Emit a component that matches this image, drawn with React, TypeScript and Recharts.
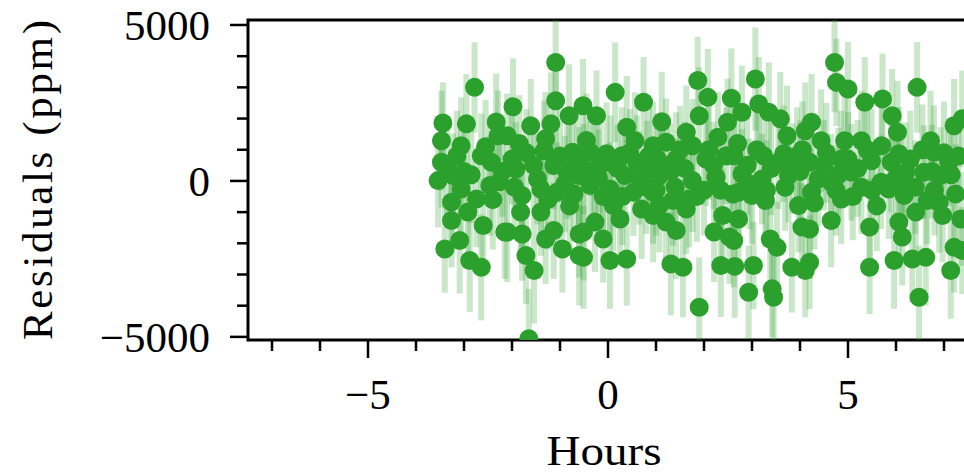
import { ScatterChart, Scatter, XAxis, YAxis, ErrorBar, ReferenceArea } from "recharts";

// [hours, residual ppm, error ppm]
const observations: [number, number, number][] = [
  [-3.54, 10, 1500], [-3.47, 1290, 1600], [-3.47, 600, 1450], [-3.44, 1860, 1300], [-3.40, -2180, 1400],
  [-3.26, -680, 1650], [-3.26, -1270, 1500], [-3.23, 170, 1350], [-3.09, -1910, 1700], [-3.06, 1130, 1550],
  [-3.06, -260, 1400], [-3.00, 300, 1500], [-2.95, 1830, 1600], [-2.92, -1000, 1450], [-2.88, -2550, 1650],
  [-2.78, 3000, 1450], [-2.74, -580, 1550], [-2.64, 810, 1350], [-2.64, -2770, 1700], [-2.60, -1430, 1500],
  [-2.46, -150, 1600], [-2.43, 600, 1400], [-2.33, 1890, 1550], [-2.29, 1450, 1450], [-2.26, -30, 1650],
  [-2.15, -1640, 1500], [-2.10, 1450, 1350], [-2.10, -1640, 1600], [-2.00, 700, 1450], [-1.98, 2380, 1550],
  [-1.92, 380, 1500], [-1.82, -1000, 1400], [-1.79, -470, 1650], [-1.79, -1700, 1500], [-1.71, -2390, 1550],
  [-1.70, 900, 1400], [-1.65, -5060, 1600], [-1.61, 1770, 1500], [-1.54, -2870, 1700], [-1.47, 60, 1450],
  [-1.40, -260, 1550], [-1.40, -1000, 1400], [-1.33, 970, 1600], [-1.30, 1350, 1500], [-1.30, -1860, 1450],
  [-1.19, 1830, 1650], [-1.13, 490, 1400], [-1.13, -1590, 1550], [-1.09, 3800, 1450], [-1.09, 2570, 1500],
  [-1.06, -360, 1600], [-0.95, -2180, 1400], [-0.90, -100, 1550], [-0.85, 280, 1500], [-0.81, 2090, 1650],
  [-0.74, 920, 1450], [-0.71, -420, 1500], [-0.60, 170, 1550], [-0.60, -1700, 1400], [-0.60, -2390, 1600],
  [-0.52, 2410, 1500], [-0.51, 380, 1450], [-0.51, -1640, 1550], [-0.51, -2450, 1650], [-0.37, 920, 1400],
  [-0.37, -150, 1500], [-0.27, -1320, 1600], [-0.24, 2090, 1450], [-0.20, 100, 1550], [-0.17, 490, 1500],
  [-0.10, -1860, 1400], [-0.03, 870, 1650], [0.04, -260, 1500], [0.04, -2550, 1550], [0.11, -790, 1450],
  [0.15, 2840, 1600], [0.20, 400, 1400], [0.25, -1220, 1500], [0.29, 810, 1550], [0.35, 170, 1450],
  [0.39, 1720, 1650], [0.39, -2500, 1500], [0.53, -360, 1400], [0.56, 1290, 1550], [0.60, 600, 1500],
  [0.70, -900, 1600], [0.74, 2520, 1450], [0.80, -200, 1500], [0.81, 380, 1550], [0.94, 1130, 1400],
  [0.94, -360, 1650], [0.94, -1110, 1500], [1.03, 700, 1450], [1.07, 170, 1550], [1.07, -790, 1500],
  [1.12, 1900, 1600], [1.21, 1240, 1400], [1.21, -1320, 1500], [1.30, 300, 1550], [1.31, -2660, 1650],
  [1.35, -630, 1450], [1.42, 700, 1500], [1.42, -1590, 1550], [1.50, 1000, 1400], [1.56, -2770, 1600],
  [1.63, 1560, 1500], [1.63, -900, 1450], [1.69, -580, 1550], [1.76, 1130, 1500], [1.76, 10, 1650],
  [1.87, 3220, 1400], [1.90, 2090, 1550], [1.90, -4050, 1600], [2.00, -300, 1450], [2.04, 700, 1500],
  [2.08, 2680, 1550], [2.20, 500, 1400], [2.21, -1640, 1600], [2.25, 120, 1500], [2.29, 1400, 1450],
  [2.35, -2710, 1650], [2.39, -1110, 1500], [2.46, 810, 1550], [2.49, 1880, 1400], [2.57, 2650, 1600],
  [2.53, -1800, 1500], [2.60, -420, 1450], [2.62, 810, 1550], [2.62, -1910, 1500], [2.64, -2740, 1650],
  [2.72, -360, 1400], [2.72, -1220, 1550], [2.79, 2200, 1500], [2.79, 220, 1450], [2.90, 500, 1600],
  [2.93, -3570, 1500], [3.00, -470, 1550], [3.03, -2710, 1400], [3.07, 3270, 1650], [3.14, 2470, 1500],
  [3.21, 60, 1450], [3.24, 810, 1550], [3.28, -630, 1500], [3.35, 2200, 1600], [3.38, -1860, 1400],
  [3.40, 400, 1500], [3.42, -3460, 1550], [3.45, -3730, 1650], [3.52, -2130, 1450], [3.59, 1990, 1500],
  [3.66, 870, 1550], [3.69, -200, 1400], [3.73, 1450, 1600], [3.76, 170, 1500], [3.83, -2770, 1450],
  [3.94, 810, 1550], [3.97, -790, 1500], [4.00, 300, 1650], [4.04, -1480, 1400], [4.11, 1610, 1550],
  [4.11, -2870, 1500], [4.20, 600, 1450], [4.20, -1540, 1600], [4.20, -2610, 1500], [4.24, 1880, 1550],
  [4.24, -360, 1400], [4.38, 60, 1500], [4.44, 1290, 1650], [4.50, 500, 1450], [4.65, -40, 1550],
  [4.65, -1270, 1500], [4.72, 3800, 1600], [4.76, 3160, 1400], [4.80, 200, 1500], [4.86, 700, 1550],
  [4.86, -580, 1450], [4.93, 1290, 1650], [5.00, 2950, 1500], [5.07, 280, 1550], [5.10, -500, 1400],
  [5.28, 1290, 1600], [5.28, -200, 1500], [5.35, 2520, 1450], [5.45, -1480, 1550], [5.45, -2770, 1500],
  [5.49, 650, 1650], [5.50, -300, 1400], [5.70, 1130, 1550], [5.69, -40, 1500], [5.72, 2630, 1450],
  [5.85, -260, 1600], [5.92, 2090, 1500], [5.96, -2550, 1550], [6.00, 100, 1400], [6.03, 1560, 1650],
  [6.06, 870, 1500], [6.06, -1320, 1450], [6.13, -1800, 1550], [6.17, -470, 1500], [6.20, 280, 1600],
  [6.34, -2500, 1400], [6.40, -200, 1500], [6.41, -1000, 1550], [6.44, 3000, 1450], [6.48, -3730, 1650],
  [6.58, 280, 1500], [6.62, -2450, 1550], [6.65, -630, 1400], [6.72, 1290, 1600], [6.79, 920, 1500],
  [6.80, -300, 1450], [6.93, 170, 1550], [6.97, -1110, 1500], [7.00, 900, 1650], [7.10, 600, 1400],
  [7.14, -2870, 1550], [7.21, 1770, 1500], [7.21, -2130, 1450], [7.24, -420, 1600], [7.35, -1220, 1500],
  [7.38, 1990, 1550], [7.38, -2230, 1400],
];

// points hidden inside the dense central band (estimated)
const coreObservations: [number, number, number][] = [
  [-3.35, 400, 1500], [-3.15, 800, 1450], [-2.85, 200, 1550], [-2.55, 1100, 1500], [-2.40, -600, 1600],
  [-2.20, 300, 1450], [-1.95, -200, 1500], [-1.85, 1200, 1550], [-1.55, 500, 1400], [-1.25, -600, 1600],
  [-1.00, 800, 1500], [-0.80, -800, 1450], [-0.65, 600, 1550], [-0.45, 1300, 1500], [-0.30, 300, 1600],
  [-0.10, -500, 1450], [0.05, 600, 1500], [0.30, -500, 1550], [0.45, 900, 1400], [0.65, 100, 1500],
  [0.85, 800, 1600], [1.00, -300, 1450], [1.15, 500, 1500], [1.40, -200, 1550], [1.60, 400, 1500],
  [1.85, -500, 1450], [2.10, 1000, 1600], [2.35, -300, 1500], [2.70, 1200, 1550], [2.95, -100, 1450],
  [3.10, 1000, 1500], [3.30, -300, 1600], [3.55, 600, 1500], [3.85, 400, 1450], [4.05, 1000, 1550],
  [4.30, -700, 1500], [4.55, 900, 1600], [4.75, -300, 1450], [5.00, 700, 1500], [5.20, 400, 1550],
  [5.40, 1000, 1500], [5.60, -800, 1450], [5.90, 600, 1600], [6.10, -100, 1500], [6.30, 700, 1550],
  [6.55, 1000, 1450], [6.75, 300, 1500], [6.90, -700, 1600], [7.15, 200, 1500], [7.30, 800, 1450],
];

const xTicks = [-7, -6, -5, -4, -3, -2, -1, 0, 1, 2, 3, 4, 5, 6, 7];
const yTicks = [-5000, -4000, -3000, -2000, -1000, 0, 1000, 2000, 3000, 4000, 5000];
const xMajor = [-5, 0, 5];
const yMajor = [-5000, 0, 5000];

const X_MIN = -7.5;
const X_MAX = 7.5;
const Y_MIN = -5100;
const Y_MAX = 5160;

const GREEN = "#2ca02c";
const FONT = "'Liberation Serif', 'Times New Roman', serif";

// error bars are cut at the plot frame, like matplotlib's clipping
const data = [...observations, ...coreObservations].map(([x, y, err]) => ({
  x,
  y,
  err: [Math.max(0, Math.min(err, y - Y_MIN)), Math.max(0, Math.min(err, Y_MAX - y))],
}));

const fmt = (v: number) => (v < 0 ? "\u2212" + Math.abs(v) : String(v));

const XTick = (props: any) => {
  const { x, y, payload } = props;
  const major = xMajor.includes(payload.value);
  return (
    <g>
      <line x1={x} x2={x} y1={y} y2={y + (major ? 18 : 11)} stroke="#000" strokeWidth={2.5} />
      {major && (
        <text x={x} y={y + 69} textAnchor="middle" fontFamily={FONT} fontSize={43} fill="#000">
          {fmt(payload.value)}
        </text>
      )}
    </g>
  );
};

const YTick = (props: any) => {
  const { x, y, payload } = props;
  const major = yMajor.includes(payload.value);
  return (
    <g>
      <line x1={x - (major ? 18 : 11)} x2={x} y1={y} y2={y} stroke="#000" strokeWidth={2.5} />
      {major && (
        <text x={x - 38} y={y + 15} textAnchor="end" fontFamily={FONT} fontSize={43} fill="#000">
          {fmt(payload.value)}
        </text>
      )}
    </g>
  );
};

const Dot = (props: any) => (
  <circle cx={props.cx} cy={props.cy} r={9.5} fill={GREEN} clipPath="url(#plot-frame)" />
);

export default function App() {
  return (
    <div style={{ position: "absolute", left: 0, top: 0, width: 964, height: 474, overflow: "hidden", background: "#fff" }}>
      <ScatterChart width={1010} height={474} margin={{ top: 20, right: 42, bottom: 0, left: 0 }}>
        <defs>
          <clipPath id="plot-frame">
            <rect x={248} y={20} width={720} height={320} />
          </clipPath>
        </defs>
        <XAxis
          type="number"
          dataKey="x"
          domain={[X_MIN, X_MAX]}
          allowDataOverflow
          ticks={xTicks}
          interval={0}
          height={134}
          tickSize={0}
          tickMargin={0}
          axisLine={false}
          tickLine={false}
          tick={XTick}
          label={{
            content: (p: any) => {
              const vb = p.viewBox;
              const cx = vb.x + vb.width / 2;
              return (
                <text
                  x={cx - 4}
                  y={465}
                  textAnchor="middle"
                  fontFamily={FONT}
                  fontSize={42}
                  textLength={115}
                  lengthAdjust="spacingAndGlyphs"
                  fill="#000"
                >
                  Hours
                </text>
              );
            },
          }}
        />
        <YAxis
          type="number"
          dataKey="y"
          domain={[Y_MIN, Y_MAX]}
          allowDataOverflow
          ticks={yTicks}
          interval={0}
          width={248}
          tickSize={0}
          tickMargin={0}
          axisLine={false}
          tickLine={false}
          tick={YTick}
          label={{
            content: (p: any) => {
              const vb = p.viewBox;
              const cy = vb.y + vb.height / 2;
              return (
                <text
                  x={52}
                  y={cy}
                  transform={`rotate(-90 52 ${cy})`}
                  textAnchor="middle"
                  fontFamily={FONT}
                  fontSize={43}
                  textLength={320}
                  lengthAdjust="spacing"
                  fill="#000"
                >
                  Residuals (ppm)
                </text>
              );
            },
          }}
        />
        <Scatter data={data} shape={Dot} isAnimationActive={false}>
          <ErrorBar
            dataKey="err"
            direction="y"
            width={0}
            stroke={GREEN}
            strokeWidth={6}
            strokeOpacity={0.25}
            isAnimationActive={false}
          />
        </Scatter>
        <ReferenceArea x1={X_MIN} x2={X_MAX} y1={Y_MIN} y2={Y_MAX} fill="none" stroke="#000" strokeWidth={3} />
      </ScatterChart>
    </div>
  );
}
